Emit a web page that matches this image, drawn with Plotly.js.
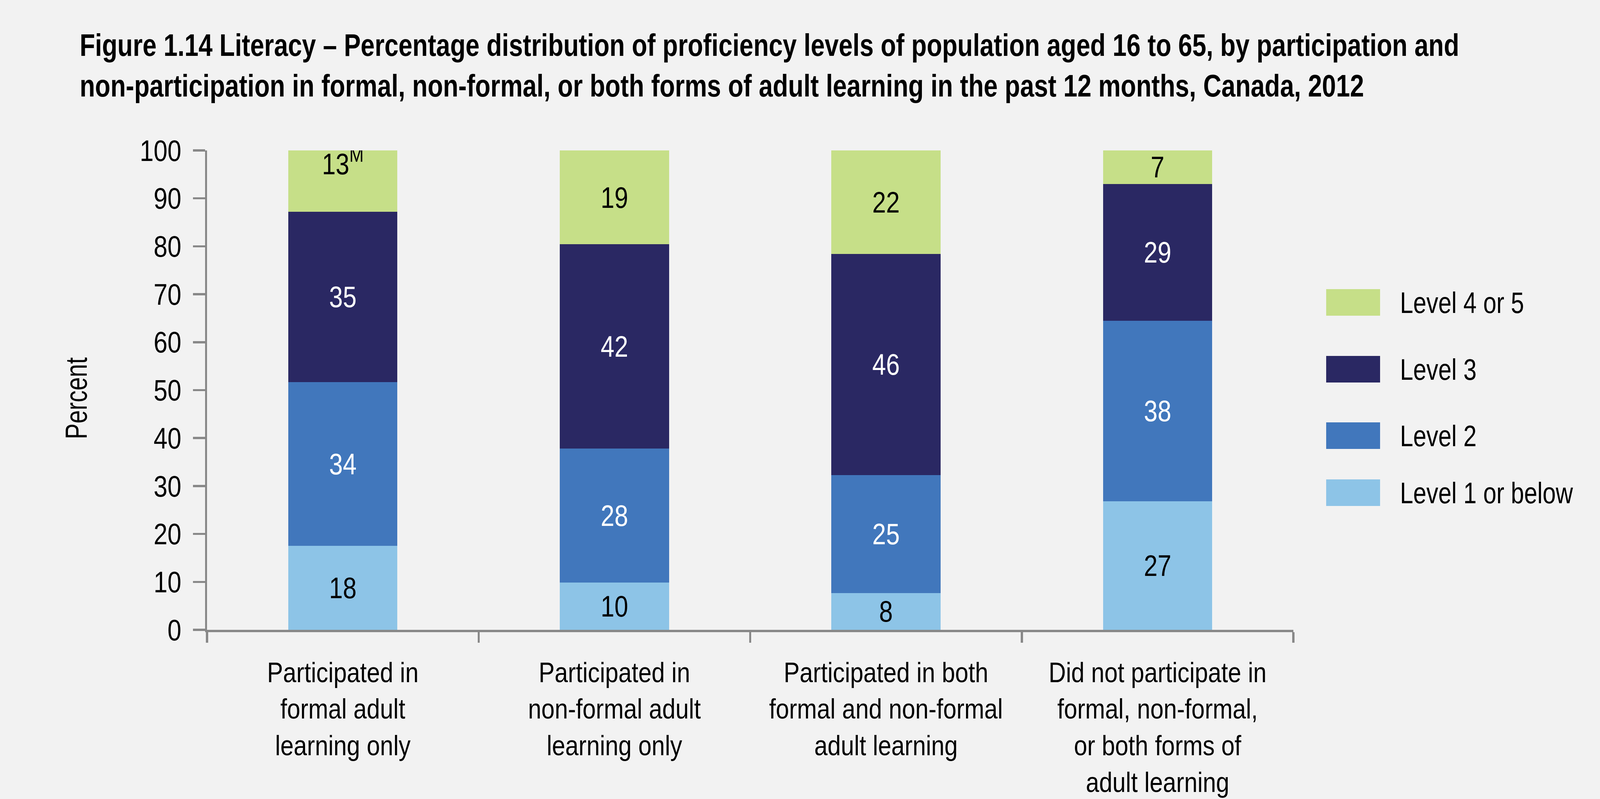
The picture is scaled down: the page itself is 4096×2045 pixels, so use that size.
<!DOCTYPE html>
<html>
<head>
<meta charset="utf-8">
<script src="https://cdn.plot.ly/plotly-3.0.1.min.js"></script>
<style>
  html, body { margin: 0; padding: 0; background: #F2F2F2; }
  #chart { width: 4096px; height: 2045px; }
</style>
</head>
<body>
<div id="chart"></div>
<script>
// ---- Data ----
const categories = [
  "Participated in<br>formal adult<br>learning only",
  "Participated in<br>non-formal adult<br>learning only",
  "Participated in both<br>formal and non-formal<br>adult learning",
  "Did not participate in<br>formal, non-formal,<br>or both forms of<br>adult learning"
];
const seriesNames = ["Level 1 or below", "Level 2", "Level 3", "Level 4 or 5"];
const level1 = [17.5, 9.9, 7.7, 26.8];
const level2 = [34.2, 27.9, 24.6, 37.7];
const level3 = [35.5, 42.6, 46.1, 28.5];
const level45 = [12.8, 19.6, 21.6, 7.0];
const level1Labels = ["18", "10", "8", "27"];
const level2Labels = ["34", "28", "25", "38"];
const level3Labels = ["35", "42", "46", "29"];
const level45Labels = ["13<sup>M</sup>", "19", "22", "7"];
const yTicks = [0, 10, 20, 30, 40, 50, 60, 70, 80, 90, 100];

// ---- Style ----
const colors = ["#8DC4E7", "#4177BC", "#2A2863", "#C6DF88"];
const labelColors = ["#000000", "#FFFFFF", "#FFFFFF", "#000000"];
const FONT = "Liberation Sans, Arial, sans-serif";
const axisGray = "#888888";

const W = 4096, H = 2045;
const L = 530, R = 3311, T = 385, B = 1612;
const PW = R - L, PH = B - T;
const px2x = p => (p - L) / PW;
const px2y = p => (B - p) / PH;

const values = [level1, level2, level3, level45];
const labels = [level1Labels, level2Labels, level3Labels,
  level45Labels.map(t => t.indexOf("<sup>") >= 0 ? t + "<br>\u00a0" : t)];

const traces = values.map((v, i) => ({
  type: "bar",
  name: seriesNames[i],
  x: categories,
  y: v,
  text: labels[i],
  texttemplate: "%{text}",
  textposition: "inside",
  insidetextanchor: "middle",
  textangle: 0,
  constraintext: "none",
  textfont: { family: FONT, size: 76, color: labelColors[i] },
  marker: { color: colors[i], line: { width: 0 } },
  hoverinfo: "skip",
  showlegend: false
}));

// Legend drawn as swatches + labels (top to bottom: Level 4 or 5 ... Level 1)
const legendRowsPx = [774, 945, 1115, 1261];
const legendOrder = [3, 2, 1, 0];
const shapes = [];
const annotations = [];
legendOrder.forEach((si, r) => {
  const cy = legendRowsPx[r];
  shapes.push({
    type: "rect", xref: "paper", yref: "paper",
    x0: px2x(3395), x1: px2x(3533),
    y0: px2y(cy + 34), y1: px2y(cy - 34),
    fillcolor: colors[si], line: { width: 0 }
  });
  annotations.push({
    xref: "paper", yref: "paper",
    x: px2x(3582), y: px2y(cy),
    xanchor: "left", yanchor: "middle", align: "left",
    text: seriesNames[si], showarrow: false,
    font: { family: FONT, size: 76, color: "#000000" }
  });
});

const layout = {
  width: W, height: H,
  paper_bgcolor: "#F2F2F2",
  plot_bgcolor: "#F2F2F2",
  margin: { l: L, r: W - R, t: T, b: H - B, pad: 0 },
  barmode: "stack",
  bargap: 0.598,
  font: { family: FONT, size: 76, color: "#000000" },
  title: {
    text: "Figure 1.14 Literacy – Percentage distribution of proficiency levels of population aged 16 to 65, by participation and<br>non-participation in formal, non-formal, or both forms of adult learning in the past 12 months, Canada, 2012",
    font: { family: FONT, size: 80, weight: "bold", color: "#000000" },
    x: 204 / W, xref: "container", xanchor: "left",
    y: 1 - 143 / H, yref: "container", yanchor: "top"
  },
  xaxis: {
    type: "category",
    showgrid: false, zeroline: false,
    showline: true, linecolor: axisGray, linewidth: 5.5,
    ticks: "outside", tickson: "boundaries", ticklen: 27, tickwidth: 5.5, tickcolor: axisGray,
    tickangle: 0,
    tickfont: { family: FONT, size: 72, color: "#000000" },
    ticklabelstandoff: 42,
    fixedrange: true
  },
  yaxis: {
    range: [0, 100],
    tickvals: yTicks,
    showgrid: false, zeroline: false,
    showline: true, linecolor: axisGray, linewidth: 5.5,
    ticks: "outside", ticklen: 31, tickwidth: 5.5, tickcolor: axisGray,
    tickfont: { family: FONT, size: 76, color: "#000000" },
    ticklabelstandoff: 14,
    title: { text: "Percent", font: { family: FONT, size: 77, color: "#000000" }, standoff: 91 },
    fixedrange: true
  },
  shapes: shapes,
  annotations: annotations,
  showlegend: false
};

// Narrow the glyphs horizontally around each text anchor to match the condensed face of the original
function condense(root, selector, s, dy) {
  root.querySelectorAll(selector).forEach(el => {
    const x = parseFloat(el.getAttribute("x")) || 0;
    const y = parseFloat(el.getAttribute("y")) || 0;
    const t = el.getAttribute("transform") || "";
    const pre = dy ? "translate(0," + dy + ") " : "";
    el.setAttribute("transform",
      (pre + t + " translate(" + x + "," + y + ") scale(" + s + ",1) translate(" + (-x) + "," + (-y) + ")").trim());
  });
}

const gd = document.getElementById("chart");
Plotly.newPlot(gd, traces, layout, { staticPlot: true, displayModeBar: false }).then(() => {
  condense(gd, ".gtitle", 0.805);
  condense(gd, ".xtick text", 0.85);
  condense(gd, ".ytick text", 0.84);
  condense(gd, ".g-ytitle text", 0.79, 21);
  condense(gd, "text.bartext", 0.83);
  condense(gd, "text.annotation-text", 0.80);
});
</script>
</body>
</html>
